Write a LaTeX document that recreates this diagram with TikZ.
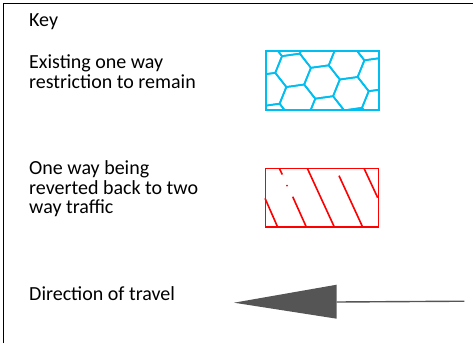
\documentclass[tikz,border=0pt]{standalone}
\usepackage{fontspec}
\setmainfont{Carlito}
\definecolor{hexcyan}{RGB}{0,190,240}
\definecolor{arrgray}{RGB}{85,85,85}
\begin{document}
\begin{tikzpicture}[x=1pt,y=-1pt,
  keytext/.style={anchor=base west,inner sep=0pt,font=\fontsize{20}{20}\selectfont,align=left},
  frameline/.style={line width=1.5pt,black},
  hexline/.style={line width=1.7pt,hexcyan,line join=round},
  redline/.style={line width=1.6pt,red},
]
\useasboundingbox (0,0) rectangle (473,343);
% frame
\draw[frameline] (3.3,343) -- (3.3,3.3) -- (473,3.3);
% texts
\node[keytext] (key) at (29,26) {Key};
\node[keytext] (t1a) at (29,68.3) {Existing one way};
\node[keytext] (t1b) at (29,88.3) {restriction to remain};
\node[keytext] (t2a) at (29,174) {One way being};
\node[keytext] (t2b) at (29,194) {reverted back to two};
\node[keytext] (t2c) at (29,213.5) {way traffic};
\node[keytext] (t3) at (29,300.7) {Direction of travel};
% hex box
\begin{scope}
  \clip (265,50) rectangle (378,109);
  \begin{scope}[shift={(322,82)},rotate=8]
    \foreach \i in {-4,...,4}{
      \foreach \j in {-5,...,5}{
        \pgfmathsetmacro{\cx}{1.5*18*\i}
        \pgfmathsetmacro{\cy}{1.732*18*(\j+0.5*\i)}
        \draw[hexline] (\cx,\cy) ++(0:18) -- ++(120:18) -- ++(180:18) -- ++(240:18) -- ++(300:18) -- ++(0:18) -- cycle;
      }
    }
  \end{scope}
\end{scope}
\node[draw=hexcyan,line width=1.7pt,minimum width=113pt,minimum height=59pt,inner sep=0pt,anchor=north west] (hexbox) at (265,50) {};
% red hatched box
\node[draw=red,line width=1.6pt,minimum width=113pt,minimum height=58.5pt,inner sep=0pt,anchor=north west] (redbox) at (264.8,167.8) {};
\draw[redline] (279.3,168.3) -- (282.3,174.5);
\fill[red] (287,185.7) circle (1);
\draw[redline] (292.7,196.7) -- (306,226.3);
\draw[redline] (265,198.3) -- (277.3,226.3);
\draw[redline] (307.3,168.3) -- (334,226.3);
\draw[redline] (339,175.7) -- (362.3,226.3);
\draw[redline] (364,168.3) -- (377.7,197.7);
% arrow
\coordinate (arrtail) at (464.3,301.2);
\coordinate (arrbase) at (336.7,302);
\coordinate (arrtip) at (234,302.7);
\draw[arrgray,line width=1.4pt] (arrtail) -- (arrbase);
\fill[arrgray] (arrtip) -- (336.7,284.7) -- (336.7,318.7) -- cycle;
\end{tikzpicture}
\end{document}
